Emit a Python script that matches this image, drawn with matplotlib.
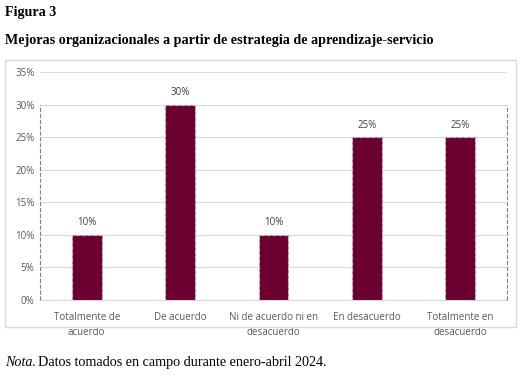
import matplotlib.pyplot as plt
from matplotlib.patches import Rectangle

categories = ["Totalmente de\nacuerdo", "De acuerdo", "Ni de acuerdo ni en\ndesacuerdo",
              "En desacuerdo", "Totalmente en\ndesacuerdo"]
values = [10, 30, 10, 25, 25]
yticks = [0, 5, 10, 15, 20, 25, 30, 35]

bar_color = "#6B0030"
text_color = "#595959"

fig = plt.figure(figsize=(5.26, 3.77), dpi=100)

# chart frame
fig.patches.append(Rectangle((5 / 526, 1 - 327 / 377), 511 / 526, 267 / 377,
                             transform=fig.transFigure, fill=False,
                             edgecolor="#d9d9d9", linewidth=1))

ax = fig.add_axes([40 / 526, 1 - 300 / 377, 467 / 526, 228 / 377])
x = list(range(len(categories)))
bars = ax.bar(x, values, width=0.32, color=bar_color, edgecolor="#bfbfbf",
              linestyle="--", linewidth=0.8, zorder=3)
for xi, v in zip(x, values):
    ax.text(xi, v + 1.0, f"{v}%", ha="center", va="bottom", fontsize=7,
            color="#404040", family="Open Sans")

# dashed drop lines at the plot edges
ax.plot([-0.5, -0.5], [0, 30], color="#7f7f7f", linestyle="--", linewidth=0.8,
        zorder=4, clip_on=False)
ax.plot([4.5, 4.5], [0, 30], color="#7f7f7f", linestyle="--", linewidth=0.8,
        zorder=4, clip_on=False)

ax.set_xlim(-0.5, 4.5)
ax.set_ylim(0, 35)
ax.set_yticks(yticks)
ax.set_yticklabels([f"{t}%" for t in yticks], fontsize=7, color=text_color, family="Open Sans")
ax.set_xticks(x)
ax.set_xticklabels(categories, fontsize=7, color=text_color, family="Open Sans",
                   linespacing=1.45)
ax.grid(axis="y", color="#d9d9d9", linewidth=0.8, zorder=0)
for s in ["top", "right", "left"]:
    ax.spines[s].set_visible(False)
ax.spines["bottom"].set_color("#d9d9d9")
ax.tick_params(length=0, pad=4)
ax.tick_params(axis="x", pad=9)

fig.text(5 / 526, 1 - 16 / 377, "Figura 3", fontsize=10.2, fontweight="bold",
         family="Liberation Serif", va="baseline")
fig.text(5 / 526, 1 - 44 / 377, "Mejoras organizacionales a partir de estrategia de aprendizaje-servicio",
         fontsize=10.2, fontweight="bold", family="Liberation Serif", va="baseline")
fig.text(5 / 526, 1 - 366 / 377, "Nota.", fontsize=10.2, fontstyle="italic",
         family="Liberation Serif", va="baseline")
fig.text(38 / 526, 1 - 366 / 377, "Datos tomados en campo durante enero-abril 2024.",
         fontsize=10.2, family="Liberation Serif", va="baseline")

fig.savefig("out.png", dpi=100)
